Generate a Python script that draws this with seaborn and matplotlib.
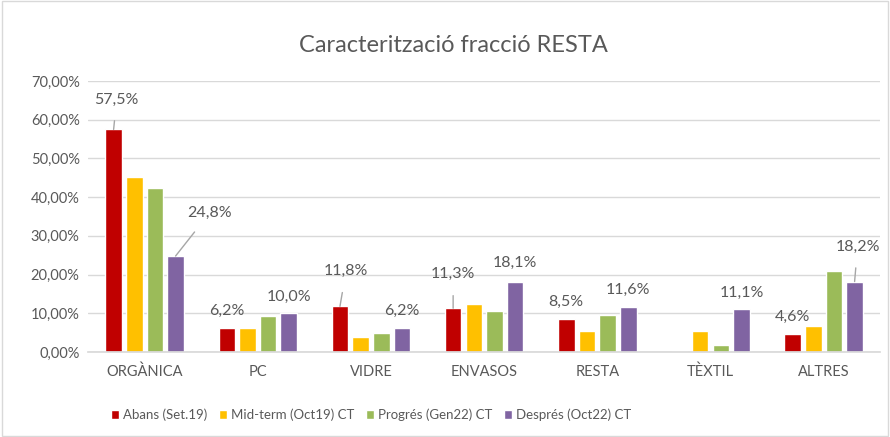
import matplotlib
matplotlib.use("Agg")
import matplotlib.pyplot as plt
import seaborn as sns
import pandas as pd
from matplotlib.patches import Rectangle
from matplotlib.ticker import FuncFormatter, MultipleLocator

categories = ["ORGÀNICA", "PC", "VIDRE", "ENVASOS", "RESTA", "TÈXTIL", "ALTRES"]
series = ["Abans (Set.19)", "Mid-term (Oct19) CT", "Progrés (Gen22) CT", "Després (Oct22) CT"]
abans = [57.5, 6.2, 11.8, 11.3, 8.5, 0.0, 4.6]
midterm = [45.2, 6.2, 4.0, 12.3, 5.4, 5.4, 6.8]
progres = [42.3, 9.2, 5.0, 10.6, 9.6, 1.8, 20.8]
despres = [24.8, 10.0, 6.2, 18.1, 11.6, 11.1, 18.2]
colors = ["#C00000", "#FFC000", "#9BBB59", "#8064A2"]

values = [abans, midterm, progres, despres]
rows = []
for s, vals in zip(series, values):
    for c, v in zip(categories, vals):
        rows.append({"cat": c, "serie": s, "val": v})
df = pd.DataFrame(rows)

# labelled bars: (series index, category index) -> (dx px, dy px, leader line)
label_style = {
    (0, 0): (3, 30, True), (3, 0): (34, 43, True),
    (0, 1): (0, 17, False), (3, 1): (0, 16, False),
    (0, 2): (6, 35, True), (3, 2): (0, 17, False),
    (0, 3): (0, 34, True), (3, 3): (0, 19, False),
    (0, 4): (0, 17, False), (3, 4): (0, 17, False),
    (3, 5): (0, 16, False),
    (0, 6): (0, 17, False), (3, 6): (3, 35, True),
}

sns.set_theme(style="white")
plt.rcParams["font.family"] = ["Lato", "DejaVu Sans"]
grey = "#595959"

fig = plt.figure(figsize=(8.9, 4.37), dpi=100)
ax = fig.add_axes([0.0989, 0.1945, 0.8901, 0.6201])

sns.barplot(data=df, x="cat", y="val", hue="serie", palette=colors,
            width=0.73, gap=0.2, ax=ax, saturation=1, errorbar=None,
            order=categories, hue_order=series)

ax.set_ylim(0, 70)
ax.set_xlim(-0.5, len(categories) - 0.5)
ax.yaxis.set_major_locator(MultipleLocator(10))
ax.yaxis.set_major_formatter(FuncFormatter(lambda v, p: f"{v:.2f}".replace(".", ",") + "%"))
ax.grid(axis="y", color="#D9D9D9", linewidth=1)
ax.set_axisbelow(True)
for sp in ["top", "right", "left"]:
    ax.spines[sp].set_visible(False)
ax.spines["bottom"].set_color("#D9D9D9")
ax.tick_params(axis="both", length=0, labelsize=10.5, colors=grey, pad=6)
ax.tick_params(axis="x", pad=9)
ax.set_xlabel("")
ax.set_ylabel("")

containers = ax.containers
for (si, ci), (dx, dy, leader) in label_style.items():
    bar = containers[si][ci]
    xc = bar.get_x() + bar.get_width() / 2
    yt = bar.get_height()
    txt = f"{values[si][ci]:.1f}".replace(".", ",") + "%"
    ax.annotate(txt, xy=(xc, yt), xytext=(dx, dy), textcoords="offset pixels",
                ha="center", va="center", fontsize=11.5, color=grey,
                arrowprops=dict(arrowstyle="-", color="#A6A6A6", lw=1,
                                shrinkA=8, shrinkB=0) if leader else None)

fig.text(0.51, 0.895, "Caracterització fracció RESTA", ha="center", va="center",
         fontsize=17, color=grey)

leg = ax.legend(loc="upper center", bbox_to_anchor=(0.357, -0.165), ncol=4,
                frameon=False, fontsize=9.5, handlelength=0.65, handleheight=0.65,
                columnspacing=0.9, handletextpad=0.25)
for t in leg.get_texts():
    t.set_color(grey)

fig.patches.append(Rectangle((0.002, 0.003), 0.996, 0.994, transform=fig.transFigure,
                             fill=False, edgecolor="#D9D9D9", linewidth=1))

fig.savefig("out.png", dpi=100)
